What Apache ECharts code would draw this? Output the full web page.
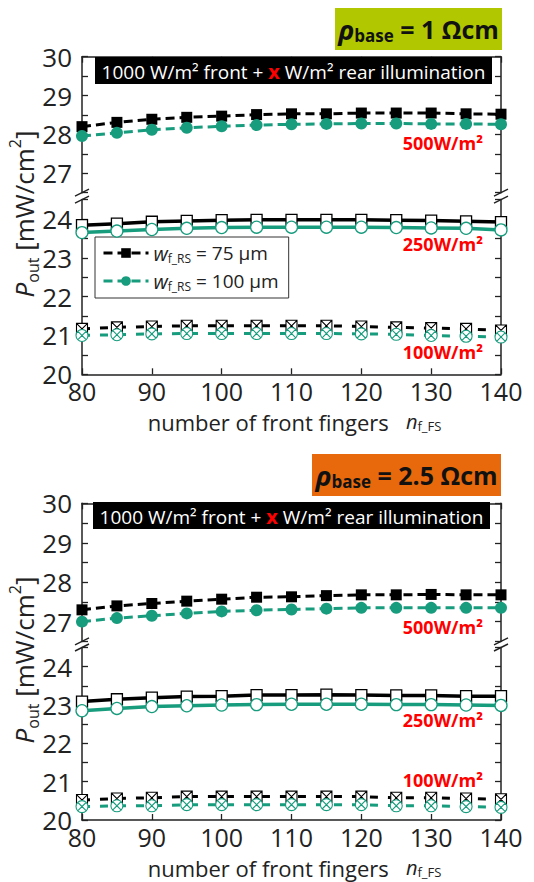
<!DOCTYPE html>
<html><head><meta charset="utf-8">
<script src="https://cdn.jsdelivr.net/npm/echarts@6/dist/echarts.min.js"></script>
<style>html,body{margin:0;padding:0;background:#fff}#c{width:534px;height:882px}</style>
</head><body><div id="c"></div>
<script>
// ---------- data ----------
const fingers = [80, 85, 90, 95, 100, 105, 110, 115, 120, 125, 130, 135, 140];
const xTickLabels = [80, 90, 100, 110, 120, 130, 140];
const yTickLabelsUpper = [27, 28, 29, 30];
const yTickLabelsLower = [20, 21, 22, 23, 24];
const widths = ['75', '100'];            // w_f_RS in µm
const irradiances = ['500W/m²', '250W/m²', '100W/m²'];
const panelTitles = ['1', '2.5'];        // rho_base in Ωcm

// panel 1: rho_base = 1 Ωcm
const p1_500_w75  = [28.20, 28.31, 28.39, 28.44, 28.47, 28.51, 28.53, 28.53, 28.55, 28.55, 28.55, 28.53, 28.52];
const p1_500_w100 = [27.96, 28.04, 28.12, 28.17, 28.21, 28.24, 28.26, 28.27, 28.28, 28.28, 28.27, 28.27, 28.26];
const p1_250_w75  = [23.84, 23.88, 23.93, 23.95, 23.97, 23.98, 23.98, 23.98, 23.98, 23.97, 23.96, 23.94, 23.92];
const p1_250_w100 = [23.65, 23.69, 23.73, 23.76, 23.78, 23.79, 23.79, 23.79, 23.79, 23.78, 23.77, 23.76, 23.72];
const p1_100_w75  = [21.17, 21.21, 21.23, 21.25, 21.25, 21.25, 21.25, 21.25, 21.23, 21.21, 21.19, 21.17, 21.13];
const p1_100_w100 = [21.00, 21.02, 21.04, 21.05, 21.05, 21.05, 21.05, 21.05, 21.04, 21.03, 21.00, 20.98, 20.96];
// panel 2: rho_base = 2.5 Ωcm
const p2_500_w75  = [27.30, 27.40, 27.46, 27.52, 27.57, 27.62, 27.63, 27.66, 27.68, 27.68, 27.69, 27.68, 27.68];
const p2_500_w100 = [27.00, 27.09, 27.15, 27.21, 27.26, 27.29, 27.31, 27.33, 27.35, 27.35, 27.35, 27.35, 27.35];
const p2_250_w75  = [23.09, 23.15, 23.19, 23.22, 23.23, 23.26, 23.26, 23.27, 23.26, 23.25, 23.25, 23.23, 23.23];
const p2_250_w100 = [22.85, 22.91, 22.96, 22.98, 23.00, 23.01, 23.02, 23.02, 23.02, 23.01, 23.01, 23.00, 22.99];
const p2_100_w75  = [20.52, 20.56, 20.58, 20.61, 20.61, 20.61, 20.61, 20.61, 20.61, 20.58, 20.58, 20.56, 20.54];
const p2_100_w100 = [20.35, 20.37, 20.37, 20.40, 20.40, 20.40, 20.40, 20.40, 20.40, 20.37, 20.37, 20.35, 20.33];

// ---------- styling / layout ----------
const FONT = '"Open Sans", "Noto Sans", sans-serif';
const TEAL = '#179c7d';
const AX = '#222';
const GL = 82, GW = 419;
const panels = [
  { upTop: 56.7, upH: 136.0, loTop: 199.6, loH: 174.7, box: [335, 8, 167, 42], boxColor: '#b1c800',
    lab: [95, 57, 397, 27], red: [143, 244.3, 352.3], yTitleY: 214 },
  { upTop: 503.3, upH: 138.1, loTop: 647.5, loH: 172.5, box: [312, 454, 189, 42], boxColor: '#e8690b',
    lab: [93, 502, 397, 27], red: [626.7, 720, 780], yTitleY: 660 }
];
const panelData = [
  [[p1_500_w75, p1_500_w100], [p1_250_w75, p1_250_w100], [p1_100_w75, p1_100_w100]],
  [[p2_500_w75, p2_500_w100], [p2_250_w75, p2_250_w100], [p2_100_w75, p2_100_w100]]
];

const SQX = 'path://M0,0L10,0L10,10L0,10Z M0,0L10,10 M10,0L0,10';
const CIX = 'path://M10,5A5,5 0 1 1 0,5A5,5 0 1 1 10,5Z M1.6,1.6L8.4,8.4 M8.4,1.6L1.6,8.4';

const grids = [], xAxes = [], yAxes = [], series = [], graphics = [];

const tickStyle = { lineStyle: { color: AX, width: 1.3 } };

function labelFmt(list) {
  return v => (list.some(t => Math.abs(t - v) < 1e-6) ? String(Math.round(v)) : '');
}

panels.forEach((p, pi) => {
  const gU = grids.length;
  grids.push({ left: GL, width: GW, top: p.upTop, height: p.upH });
  grids.push({ left: GL, width: GW, top: p.loTop, height: p.loH });
  // x axes
  xAxes.push({ gridIndex: gU, type: 'value', position: 'top', min: 80, max: 140, interval: 10,
    axisLine: { lineStyle: { color: AX, width: 1.5 } }, axisTick: { inside: true, length: 6, ...tickStyle },
    axisLabel: { show: false }, splitLine: { show: false } });
  xAxes.push({ gridIndex: gU + 1, type: 'value', position: 'bottom', min: 80, max: 140, interval: 10,
    axisLine: { lineStyle: { color: AX, width: 1.5 } }, axisTick: { inside: true, length: 6, ...tickStyle },
    axisLabel: { fontSize: 25, lineHeight: 23, color: AX, fontFamily: FONT, margin: 5, formatter: labelFmt(xTickLabels) },
    splitLine: { show: false } });
  // x title
  graphics.push({ type: 'text', x: GL + GW / 2 + 3, y: p.loTop + p.loH + 47.5, z: 11, style: {
    text: '{n|number of front fingers   }{i|n}{s|f_FS}', align: 'center', verticalAlign: 'middle',
    rich: {
      n: { fontSize: 22, fontFamily: FONT, fill: AX, lineHeight: 22 },
      i: { fontSize: 20, fontStyle: 'italic', fontFamily: FONT, fill: AX, lineHeight: 22 },
      s: { fontSize: 13, fontFamily: FONT, fill: AX, lineHeight: 13, verticalAlign: 'bottom' } } } });
  // y axes
  [[gU, 26.5, 30, yTickLabelsUpper], [gU + 1, 20, 24.5, yTickLabelsLower]].forEach(([g, mn, mx, lbl]) => {
    yAxes.push({ gridIndex: g, type: 'value', position: 'left', min: mn, max: mx, interval: 0.5,
      axisLine: { show: true, lineStyle: { color: AX, width: 1.5 } }, axisTick: { inside: true, length: 6, ...tickStyle },
      axisLabel: { fontSize: 26, lineHeight: 24, color: AX, fontFamily: FONT, margin: 10, formatter: labelFmt(lbl) },
      splitLine: { show: false } });
    yAxes.push({ gridIndex: g, type: 'value', position: 'right', min: mn, max: mx, interval: 0.5,
      axisLine: { show: true, lineStyle: { color: AX, width: 1.5 } }, axisTick: { inside: true, length: 6, ...tickStyle },
      axisLabel: { show: false }, splitLine: { show: false } });
  });

  // series
  const styles = [
    [ // 500: dashed, filled
      { symbol: 'rect', symbolSize: 11, itemStyle: { color: '#000' }, lineStyle: { color: '#000', width: 3, type: [9, 5] } },
      { symbol: 'circle', symbolSize: 12, itemStyle: { color: TEAL }, lineStyle: { color: TEAL, width: 3, type: [9, 5] } }
    ],
    [ // 250: solid, open
      { symbol: 'rect', symbolSize: 11, itemStyle: { color: '#fff', borderColor: '#000', borderWidth: 1.3 }, lineStyle: { color: '#000', width: 3.5, type: 'solid' } },
      { symbol: 'circle', symbolSize: 12, itemStyle: { color: '#fff', borderColor: TEAL, borderWidth: 1.3 }, lineStyle: { color: TEAL, width: 3.5, type: 'solid' } }
    ],
    [ // 100: dashed, crossed
      { symbol: SQX, symbolSize: 11, itemStyle: { color: '#fff', borderColor: '#000', borderWidth: 1.1 }, lineStyle: { color: '#000', width: 3, type: [8, 10] } },
      { symbol: CIX, symbolSize: 12, itemStyle: { color: '#fff', borderColor: TEAL, borderWidth: 1.1 }, lineStyle: { color: TEAL, width: 3, type: [8, 10] } }
    ]
  ];
  panelData[pi].forEach((pair, li) => {
    pair.forEach((vals, wi) => {
      const g = li === 0 ? gU : gU + 1;
      series.push(Object.assign({
        type: 'line', name: 'w' + widths[wi], xAxisIndex: g, yAxisIndex: g * 2,
        data: fingers.map((f, k) => [f, vals[k]]), showSymbol: true, animation: false, z: 3 + wi
      }, styles[li][wi]));
    });
  });

  // title box
  const [bx, by, bw, bh] = p.box;
  graphics.push({ type: 'rect', shape: { x: bx, y: by, width: bw, height: bh }, style: { fill: p.boxColor }, z: 10 });
  graphics.push({ type: 'text', x: bx + bw / 2, y: by + bh / 2, z: 11, style: {
    text: '{i|ρ}{s|base}{n| = ' + panelTitles[pi] + ' Ωcm}', align: 'center', verticalAlign: 'middle',
    rich: {
      i: { fontSize: 27, fontStyle: 'italic', fontWeight: 'bold', fontFamily: FONT, fill: '#111', lineHeight: 30 },
      s: { fontSize: 17, fontWeight: 'bold', fontFamily: FONT, fill: '#111', lineHeight: 16, verticalAlign: 'bottom' },
      n: { fontSize: 25, fontWeight: 'bold', fontFamily: FONT, fill: '#111', lineHeight: 30 } } } });
  // black label
  const [lx, ly, lw, lh] = p.lab;
  graphics.push({ type: 'rect', shape: { x: lx, y: ly, width: lw, height: lh }, style: { fill: '#000' }, z: 10 });
  graphics.push({ type: 'text', x: lx + lw / 2, y: ly + lh / 2 + 1, z: 11, style: {
    text: '{w|1000 W/m² front + }{r|x}{w| W/m² rear illumination}', align: 'center', verticalAlign: 'middle',
    rich: {
      w: { fontSize: 19, fontFamily: FONT, fill: '#fff' },
      r: { fontSize: 20, fontWeight: 'bold', fontFamily: FONT, fill: '#f00' } } } });
  // red irradiance labels
  irradiances.forEach((t, k) => {
    graphics.push({ type: 'text', x: 483, y: p.red[k], z: 11, style: {
      text: t, fill: '#f00', fontSize: 18, fontWeight: 'bold', fontFamily: FONT, align: 'right', verticalAlign: 'middle' } });
  });
  // y title
  graphics.push({ type: 'text', x: 24, y: p.yTitleY, rotation: Math.PI / 2, z: 11, style: {
    text: '{i|P}{s|out}{n| [mW/cm}{u|2}{n|]}', align: 'center', verticalAlign: 'middle',
    rich: {
      i: { fontSize: 26, fontStyle: 'italic', fontFamily: FONT, fill: AX, lineHeight: 34 },
      s: { fontSize: 16, fontFamily: FONT, fill: AX, lineHeight: 16, verticalAlign: 'bottom' },
      n: { fontSize: 26, fontFamily: FONT, fill: AX, lineHeight: 34 },
      u: { fontSize: 16, fontFamily: FONT, fill: AX, lineHeight: 16, verticalAlign: 'top' } } } });
  // axis break marks
  const yb1 = p.upTop + p.upH, yb2 = p.loTop;
  [GL, GL + GW].forEach(x => {
    [yb1, yb2].forEach(y => {
      graphics.push({ type: 'line', z: 12, shape: { x1: x - 7, y1: y + 3.5, x2: x + 7, y2: y - 3.5 },
        style: { stroke: AX, lineWidth: 1.5 } });
    });
  });
});

const chart = echarts.init(document.getElementById('c'), null, { renderer: 'svg' });
chart.setOption({
  animation: false,
  backgroundColor: '#fff',
  grid: grids, xAxis: xAxes, yAxis: yAxes, series: series, graphic: graphics,
  legend: {
    data: ['w75', 'w100'], orient: 'vertical', left: 95, top: 237, padding: [6, 10, 6, 7], itemGap: 7,
    itemWidth: 45, itemHeight: 12, backgroundColor: '#fff', borderColor: '#333', borderWidth: 1,
    selectedMode: false, lineStyle: { width: 3 },
    formatter: n => '{i|w}{s|f_RS}{n| = ' + n.slice(1) + ' µm}',
    textStyle: { fontFamily: FONT, color: AX, rich: {
      i: { fontSize: 20, fontStyle: 'italic', fontFamily: FONT, color: AX, lineHeight: 22 },
      s: { fontSize: 12, fontFamily: FONT, color: AX, lineHeight: 12, verticalAlign: 'bottom' },
      n: { fontSize: 19, fontFamily: FONT, color: AX, lineHeight: 22 } } }
  }
});
</script></body></html>
